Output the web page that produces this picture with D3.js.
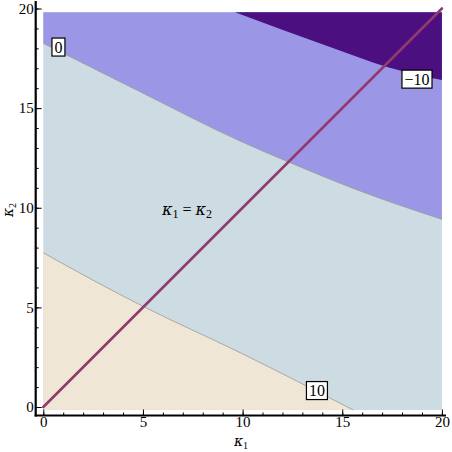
<!DOCTYPE html>
<html>
<head>
<meta charset="utf-8">
<script src="https://cdn.jsdelivr.net/npm/d3@7"></script>
<style>
  body { margin: 0; background: #fff; }
  text { font-family: "Liberation Serif", "DejaVu Serif", serif; }
</style>
</head>
<body>
<svg id="chart" width="452" height="452"></svg>
<script>
// contour lines, as [kappa1, kappa2]
const level10 = [[0, 7.74], [2.5, 6.36], [5.05, 5.03], [9.87, 2.73], [15.55, -0.15]];
const level0 = [[0, 18.25], [4.86, 15.82], [9.87, 13.35], [12.3, 12.3], [16, 10.8], [20, 9.42]];
const levelNeg10 = [[9.62, 19.81], [14.56, 18.0], [17.2, 17.08], [20, 16.41]];

const xTicks = [0, 5, 10, 15, 20];
const yTicks = [0, 5, 10, 15, 20];
const minorTicks = d3.range(0, 21, 1);
const fillRangeY = [-0.15, 19.81];

const contourLabels = [
  { text: "0", k1: 0.76, k2: 18.07 },
  { text: "\u221210", k1: 18.75, k2: 16.46 },
  { text: "10", k1: 13.73, k2: 0.83 }
];

const svg = d3.select("#chart");
const x = d3.scaleLinear().domain([0, 20]).range([43.3, 441.9]);
const y = d3.scaleLinear().domain([0, 20]).range([407, 8.5]);

const colBeige = "#f0e6d6", colBlue = "#cddbe3", colLilac = "#9b97e6", colDark = "#4b0f80";

const line = d3.line().x(d => x(d[0])).y(d => y(d[1])).curve(d3.curveMonotoneX);
const yb = y(fillRangeY[0]), yt = y(fillRangeY[1]);

const g = svg.append("g");

// base band (between 10 and 0)
g.append("rect")
  .attr("x", x(0)).attr("y", yt)
  .attr("width", x(20) - x(0)).attr("height", yb - yt)
  .attr("fill", colBlue);

// above 10 level -> beige region under the line
g.append("path")
  .attr("d", line(level10) + "L" + x(0) + "," + yb + "Z")
  .attr("fill", colBeige);

// below 0 level -> lilac
g.append("path")
  .attr("d", line(level0) + "L" + x(20) + "," + yt + "L" + x(0) + "," + yt + "Z")
  .attr("fill", colLilac);

// below -10 -> dark purple
g.append("path")
  .attr("d", line(levelNeg10) + "L" + x(20) + "," + yt + "Z")
  .attr("fill", colDark);

// contour lines
[level10, level0].forEach(function(lv) {
  g.append("path")
    .attr("d", line(lv))
    .attr("fill", "none")
    .attr("stroke", "#999")
    .attr("stroke-width", 0.8);
});

// diagonal k1 = k2
svg.append("line")
  .attr("x1", x(0)).attr("y1", y(0))
  .attr("x2", x(20)).attr("y2", y(20))
  .attr("stroke", "#913c6e")
  .attr("stroke-width", 2.6)
  .attr("stroke-linecap", "round");

// contour labels
contourLabels.forEach(function(l) {
  const lg = svg.append("g").attr("transform", "translate(" + x(l.k1) + "," + y(l.k2) + ")");
  const t = lg.append("text")
    .attr("text-anchor", "middle")
    .attr("dy", "0.35em")
    .attr("font-size", 16)
    .text(l.text);
  const bb = t.node().getBBox();
  lg.insert("rect", "text")
    .attr("x", bb.x - 2.5).attr("y", bb.y - 0.5)
    .attr("width", bb.width + 5).attr("height", bb.height + 1)
    .attr("fill", "#fff")
    .attr("stroke", "#000")
    .attr("stroke-width", 1.2);
});

// annotation
const ann = svg.append("text")
  .attr("x", 187).attr("y", 215)
  .attr("text-anchor", "middle")
  .attr("font-size", 16);
ann.append("tspan").attr("font-family", "DejaVu Serif").attr("font-style", "italic").text("\u03ba");
ann.append("tspan").attr("font-size", 12).attr("dy", 3).text("1");
ann.append("tspan").attr("dy", -3).text(" = ");
ann.append("tspan").attr("font-family", "DejaVu Serif").attr("font-style", "italic").text("\u03ba");
ann.append("tspan").attr("font-size", 12).attr("dy", 3).text("2");

// axes
const axisY = 415.5, axisX = 35.7;

svg.append("g")
  .attr("transform", "translate(0," + axisY + ")")
  .call(d3.axisBottom(x).tickValues(minorTicks).tickSize(-3).tickFormat(""))
  .call(a => a.select(".domain").remove());
svg.append("g")
  .attr("transform", "translate(0," + axisY + ")")
  .call(d3.axisBottom(x).tickValues(xTicks).tickSize(-6).tickPadding(3))
  .call(a => a.select(".domain").remove())
  .call(a => a.selectAll("text").attr("font-size", 15).attr("font-family", "Liberation Serif").attr("dy", "0.2em").attr("y", 8));

svg.append("g")
  .attr("transform", "translate(" + axisX + ",0)")
  .call(d3.axisLeft(y).tickValues(minorTicks).tickSize(-3).tickFormat(""))
  .call(a => a.select(".domain").remove());
svg.append("g")
  .attr("transform", "translate(" + axisX + ",0)")
  .call(d3.axisLeft(y).tickValues(yTicks).tickSize(-6))
  .call(a => a.select(".domain").remove())
  .call(a => a.selectAll("text").attr("font-size", 15).attr("font-family", "Liberation Serif").attr("x", -2));

svg.selectAll(".tick line").attr("stroke", "#000").attr("stroke-width", 1);

svg.append("line")
  .attr("x1", axisX - 1).attr("y1", axisY)
  .attr("x2", 446).attr("y2", axisY)
  .attr("stroke", "#000").attr("stroke-width", 2.2);
svg.append("line")
  .attr("x1", axisX).attr("y1", 1)
  .attr("x2", axisX).attr("y2", axisY + 1)
  .attr("stroke", "#000").attr("stroke-width", 2.2);

// axis titles
const xl = svg.append("text").attr("x", 241).attr("y", 446).attr("text-anchor", "middle").attr("font-size", 14);
xl.append("tspan").attr("font-family", "DejaVu Serif").attr("font-style", "italic").text("\u03ba");
xl.append("tspan").attr("font-size", 10).attr("dy", 3).text("1");

const yl = svg.append("text").attr("transform", "translate(13,210) rotate(-90)").attr("text-anchor", "middle").attr("font-size", 14);
yl.append("tspan").attr("font-family", "DejaVu Serif").attr("font-style", "italic").text("\u03ba");
yl.append("tspan").attr("font-size", 10).attr("dy", 3).text("2");
</script>
</body>
</html>
